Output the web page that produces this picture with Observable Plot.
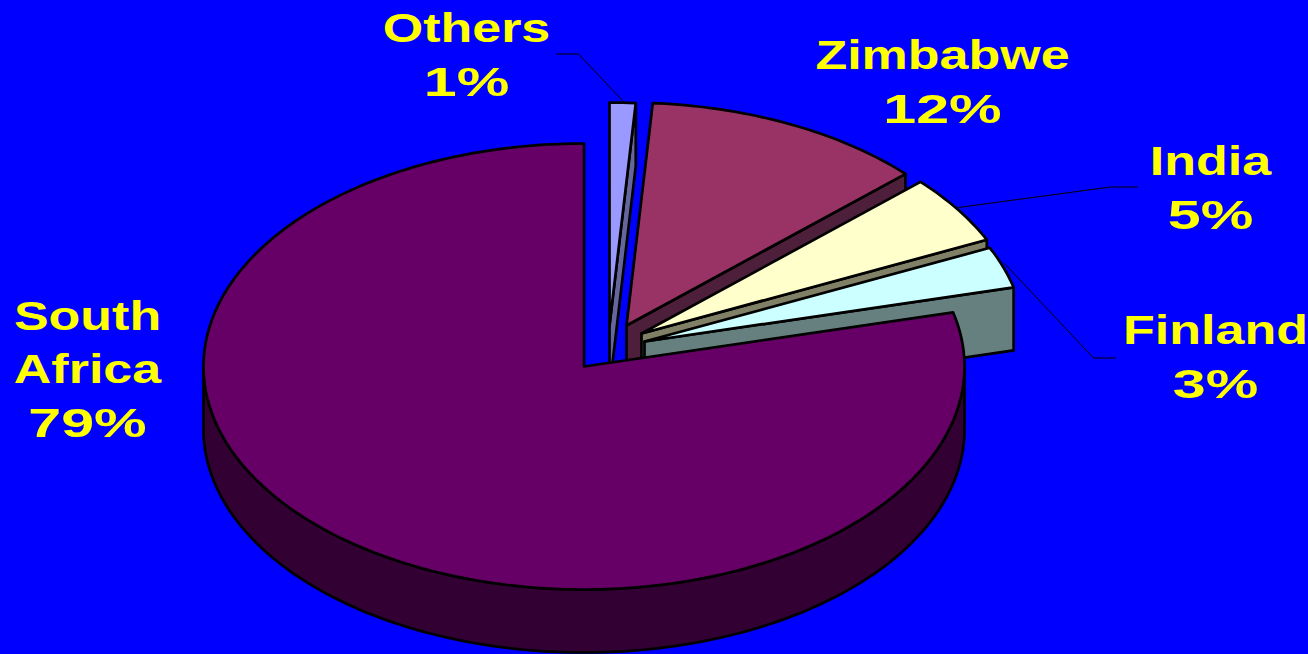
<!DOCTYPE html>
<html>
<head>
<meta charset="utf-8">
<script src="https://cdn.jsdelivr.net/npm/d3@7"></script>
<script src="https://cdn.jsdelivr.net/npm/@observablehq/plot@0.6"></script>
<style>
html,body{margin:0;padding:0;background:#0000ff;overflow:hidden}
svg{display:block}
</style>
</head>
<body>
<div id="chart"></div>
<script>
// Data, clockwise from twelve o'clock
const names = ["Others", "Zimbabwe", "India", "Finland", "South Africa"];
const shares = [1.1, 12, 5, 3, 78.9];
const shownPercent = [1, 12, 5, 3, 79];

// Styles
const topColors = ["#9999ff", "#993366", "#ffffcc", "#ccffff", "#660066"];
const wallColors = ["#66669f", "#4d1f3a", "#808066", "#668080", "#330033"];

// Pie layout (in figure units)
const center = [583.5, 366];
const radiusX = 380.5, radiusY = 223, depth = 63;
const explodeX = [25.5, 42.5, 57.5, 60.5, 0];
const explodeY = [-41, -41, -33, -25, 0];

// Label layout (in figure units): centre x, baseline of the percent line
const labelX = [466, 942, 1210, 1215, 87];
const labelY = [95, 122, 228, 397, 436];
const leaders = [
  [[556, 53.5], [578, 53.5], [622, 100]],
  [[1137, 186.5], [1110, 186.5], [958, 207]],
  [[1004, 263], [1093, 357.5], [1115, 357.5]]
];

// Cumulative angles derived from the shares
const total = d3.sum(shares);
const cum = d3.cumsum(shares);
const startAngle = i => i === 0 ? 0 : cum[i - 1] / total * 360;
const endAngle = i => cum[i] / total * 360;
const tip = i => [center[0] + explodeX[i], center[1] + explodeY[i]];
const rim = (i, deg) => {
  const a = deg * Math.PI / 180, [cx, cy] = tip(i);
  return [cx + radiusX * Math.sin(a), cy - radiusY * Math.cos(a)];
};
const down = ([x, y]) => [x, y + depth];
const arc = (i, from, to) => {
  const n = Math.max(2, Math.ceil(Math.abs(to - from)));
  return d3.range(n + 1).map(k => rim(i, from + (to - from) * k / n));
};
const closed = pts => [...pts, pts[0]];

// Top face of a slice
const topFace = i => closed([tip(i), ...arc(i, startAngle(i), endAngle(i))]);
// Cut face at the clockwise end of a slice, facing the viewer
const cutFace = i => {
  const e = rim(i, endAngle(i));
  return closed([tip(i), e, down(e), down(tip(i))]);
};
// Rim wall of the main slice, the part facing the viewer
const rimWall = i => {
  const a = arc(i, 90, 270);
  return closed([...a, ...a.map(down).reverse()]);
};

const style = {x: d => d[0], y: d => d[1], stroke: "#000", strokeWidth: 2.7, strokeLinejoin: "round", strokeMiterlimit: 4};
const polygon = (pts, fill) => Plot.line(pts, {...style, fill});

const marks = [];
// Exploded slices, back to front
[0, 1, 2, 3].forEach(i => {
  marks.push(polygon(cutFace(i), wallColors[i]));
  marks.push(polygon(topFace(i), topColors[i]));
});
// Main slice
marks.push(polygon(rimWall(4), wallColors[4]));
marks.push(polygon(topFace(4), topColors[4]));
// Leader lines
leaders.forEach(l => marks.push(Plot.line(l, {x: d => d[0], y: d => d[1], stroke: "#000", strokeWidth: 1})));
// Labels: names and percents are stretched by different amounts in the reference
const lineGap = 53.5;
const textStyle = {
  x: "x", y: "y", text: "text", fill: "#ffff00", stroke: "none",
  fontFamily: "Liberation Sans", fontWeight: "bold", fontSize: 40,
  lineHeight: lineGap / 40, lineAnchor: "bottom", textAnchor: "middle"
};
marks.push(Plot.text(names.map((n, i) => ({
  text: n === "South Africa" ? "South\nAfrica" : n, x: labelX[i], y: labelY[i] - lineGap
})), {...textStyle, className: "name-label"}));
marks.push(Plot.text(shownPercent.map((p, i) => ({
  text: p + "%", x: labelX[i], y: labelY[i]
})), {...textStyle, className: "percent-label"}));

const chart = Plot.plot({
  width: 1308, height: 654, margin: 0,
  style: {background: "#0000ff"},
  x: {axis: null, domain: [0, 1308], range: [0, 1308]},
  y: {axis: null, domain: [654, 0], range: [654, 0]},
  marks
});
const stretch = (selector, k) => chart.querySelectorAll(selector).forEach(t => {
  t.setAttribute("transform", (t.getAttribute("transform") || "") + ` scale(${k},1)`);
});
stretch(".name-label text", 1.3);
stretch(".percent-label text", 1.48);
document.getElementById("chart").append(chart);
</script>
</body>
</html>
